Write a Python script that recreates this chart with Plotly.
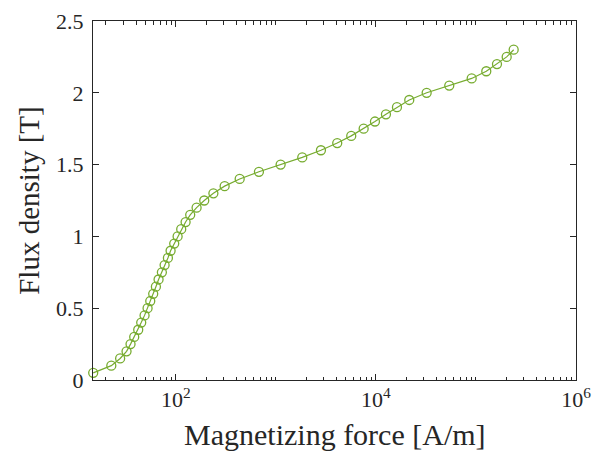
import plotly.graph_objects as go
import math

# Magnetizing force H [A/m]
H = [14.9, 22.6, 27.7, 32.1, 35.2, 38.3, 42.0, 45.0, 48.6, 52.1,
     55.4, 59.3, 63.1, 67.1, 72.4, 77.1, 83.2, 88.5, 96.2, 104,
     113, 125, 139, 161, 192, 237, 307, 434, 676, 1114,
     1833, 2818, 4102, 5662, 7534, 9772, 12589, 16218, 21528, 32136,
     54075, 90572, 126765, 162181, 202768, 238232]
# Flux density B [T]
B = [0.05, 0.10, 0.15, 0.20, 0.25, 0.30, 0.35, 0.40, 0.45, 0.50,
     0.55, 0.60, 0.65, 0.70, 0.75, 0.80, 0.85, 0.90, 0.95, 1.00,
     1.05, 1.10, 1.15, 1.20, 1.25, 1.30, 1.35, 1.40, 1.45, 1.50,
     1.55, 1.60, 1.65, 1.70, 1.75, 1.80, 1.85, 1.90, 1.95, 2.00,
     2.05, 2.10, 2.15, 2.20, 2.25, 2.30]

x_tickvals = [1e2, 1e4, 1e6]
x_ticktext = ["10<sup>2</sup>", "10<sup>4</sup>", "10<sup>6</sup>"]
y_tickvals = [0, 0.5, 1, 1.5, 2, 2.5]
y_ticktext = ["0", "0.5", "1", "1.5", "2", "2.5"]
x_minor = [m * 10 ** d for d in range(1, 6) for m in range(2, 10)] + [1e3, 1e5]

color = "#77AC30"
ink = "#262626"
font = "Liberation Serif, Times New Roman, serif"

fig = go.Figure()
fig.add_trace(go.Scatter(
    x=H, y=B, mode="lines+markers",
    line=dict(color=color, width=1.2),
    marker=dict(symbol="circle-open", size=9, color=color, line=dict(width=1.3)),
    showlegend=False, cliponaxis=False,
))

fig.update_layout(
    width=592, height=452,
    margin=dict(l=93, r=16, t=21, b=72, autoexpand=False),
    paper_bgcolor="white", plot_bgcolor="white",
    font=dict(family=font, color=ink, size=22),
    annotations=[
        dict(text="Magnetizing force [A/m]", xref="paper", yref="paper",
             x=0.5, y=-0.151, xanchor="center", yanchor="middle",
             showarrow=False, font=dict(size=30, color=ink)),
        dict(text="Flux density [T]", xref="paper", yref="paper",
             x=-0.134, y=0.5, xanchor="center", yanchor="middle", textangle=-90,
             showarrow=False, font=dict(size=29, color=ink)),
    ],
)
fig.update_xaxes(
    type="log", range=[math.log10(H[0]) - 0.002, 6], automargin=False,
    tickvals=x_tickvals, ticktext=x_ticktext,
    ticks="inside", ticklen=6, tickwidth=1, tickcolor=ink,
    minor=dict(tickvals=x_minor, ticks="inside", ticklen=3.5, tickwidth=1, tickcolor=ink),
    showline=True, linecolor=ink, linewidth=1, mirror="ticks",
    showgrid=False, zeroline=False,
    tickfont=dict(size=22),
)
fig.update_yaxes(
    range=[0, 2.5], automargin=False,
    tickvals=y_tickvals, ticktext=y_ticktext,
    ticks="inside", ticklen=6, tickwidth=1, tickcolor=ink,
    showline=True, linecolor=ink, linewidth=1, mirror="ticks",
    showgrid=False, zeroline=False,
    tickfont=dict(size=22), ticklabelstandoff=4,
)

fig.write_html("out.html",
               config={"displayModeBar": False},
               post_script="document.body.style.margin='0';document.body.style.overflow='hidden';")
